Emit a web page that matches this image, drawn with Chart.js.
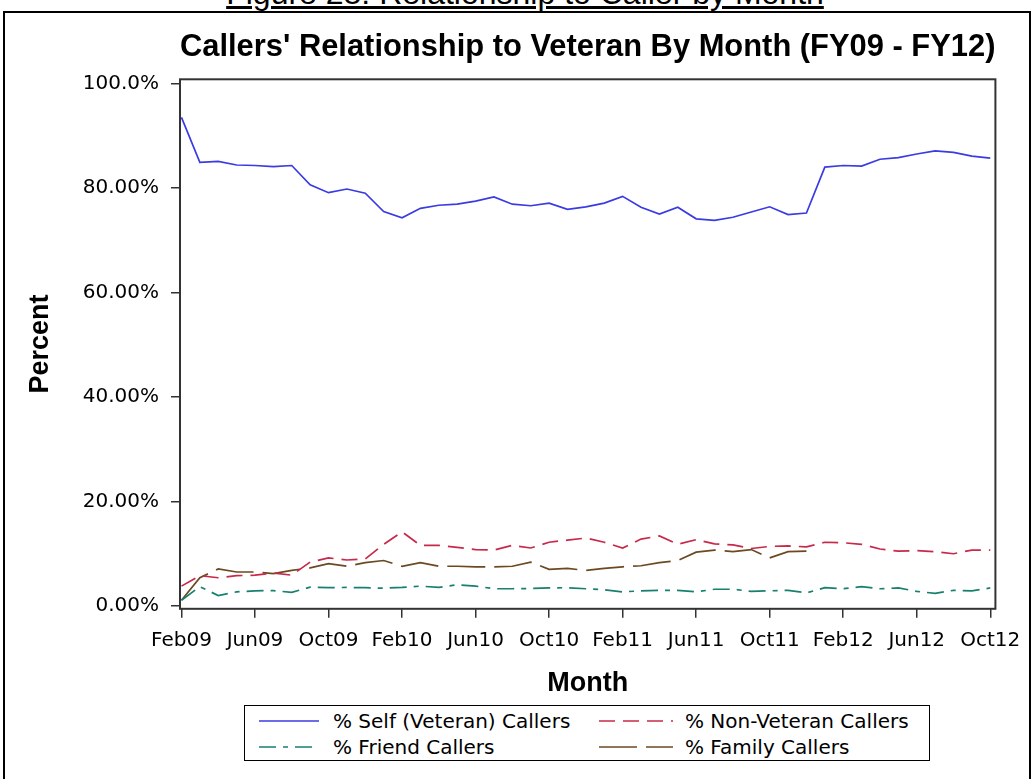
<!DOCTYPE html>
<html>
<head>
<meta charset="utf-8">
<script src="https://cdn.jsdelivr.net/npm/chart.js@4.4.1/dist/chart.umd.min.js"></script>
<style>
  html, body { margin: 0; padding: 0; background: #fff; overflow: hidden; }
  body { width: 1031px; height: 779px; position: relative; font-family: 'DejaVu Sans', sans-serif; }
  #frame { position: absolute; left: 3px; top: 11px; width: 1024px; height: 900px; border: 2px solid #000; }
  #caption { position: absolute; left: 0; width: 1050px; top: -23px; text-align: center;
    font: 32px 'Liberation Sans', Arial, sans-serif; line-height: 32px; text-decoration: underline; color: #000; }
  #wrap { position: absolute; left: 0; top: 0; width: 1031px; height: 779px; }
  #legend { position: absolute; left: 244px; top: 705px; width: 686px; height: 56px;
    border: 1.5px solid #000; box-sizing: border-box; background: #fff; }
  .lg-item { position: absolute; height: 26px; display: flex; align-items: center;
    font: 20px 'DejaVu Sans', sans-serif; color: #000; white-space: nowrap; }
</style>
</head>
<body>
<div id="frame"></div>
<div id="caption">Figure 28: Relationship to Caller by Month</div>
<div id="wrap"><canvas id="callerChart" width="1031" height="779"></canvas></div>
<div id="legend"></div>
<script>
/* Callers' relationship to veteran, monthly FY09 - FY12 */

const months = [
  'Feb09','Mar09','Apr09','May09','Jun09','Jul09','Aug09','Sep09','Oct09','Nov09','Dec09',
  'Jan10','Feb10','Mar10','Apr10','May10','Jun10','Jul10','Aug10','Sep10','Oct10','Nov10','Dec10',
  'Jan11','Feb11','Mar11','Apr11','May11','Jun11','Jul11','Aug11','Sep11','Oct11','Nov11','Dec11',
  'Jan12','Feb12','Mar12','Apr12','May12','Jun12','Jul12','Aug12','Sep12','Oct12'
];

const selfPct = [
  93.5, 84.9, 85.1, 84.4, 84.3, 84.1, 84.3, 80.6, 79.1, 79.8, 79.0,
  75.5, 74.3, 76.1, 76.7, 76.9, 77.5, 78.3, 76.9, 76.6, 77.1, 75.9, 76.4,
  77.1, 78.4, 76.3, 75.0, 76.3, 74.1, 73.8, 74.4, 75.4, 76.4, 74.9, 75.2,
  84.0, 84.3, 84.2, 85.5, 85.8, 86.5, 87.1, 86.8, 86.1, 85.7
];
const nonVetPct = [
  3.8, 5.8, 5.4, 5.8, 5.9, 6.3, 5.9, 8.4, 9.2, 8.8, 9.0,
  11.8, 14.2, 11.6, 11.6, 11.2, 10.8, 10.7, 11.6, 11.1, 12.2, 12.6, 13.0,
  12.2, 11.1, 12.8, 13.4, 11.8, 12.7, 11.9, 11.7, 11.0, 11.4, 11.5, 11.3,
  12.2, 12.1, 11.8, 10.9, 10.5, 10.6, 10.4, 10.0, 10.7, 10.7
];
const friendPct = [
  1.1, 3.7, 2.0, 2.7, 2.9, 2.95, 2.6, 3.6, 3.5, 3.55, 3.5,
  3.4, 3.55, 3.8, 3.55, 4.05, 3.8, 3.3, 3.3, 3.35, 3.45, 3.5, 3.3,
  3.1, 2.7, 2.9, 3.0, 3.0, 2.7, 3.2, 3.2, 2.8, 2.9, 3.0, 2.5,
  3.5, 3.3, 3.7, 3.3, 3.45, 2.8, 2.4, 3.0, 2.9, 3.45
];
const familyPct = [
  1.1, 5.4, 7.1, 6.5, 6.5, 6.2, 6.8, 7.3, 8.1, 7.6, 8.3,
  8.7, 7.6, 8.3, 7.6, 7.6, 7.5, 7.5, 7.6, 8.4, 7.0, 7.2, 6.8,
  7.2, 7.5, 7.7, 8.3, 8.7, 10.3, 10.7, 10.4, 10.8, 9.2, 10.4, 10.5,
  null, null, null, null, null, null, null, null, null, null
];

const seriesNames = ['% Self (Veteran) Callers', '% Non-Veteran Callers', '% Friend Callers', '% Family Callers'];
const xTickIdx = [0, 4, 8, 12, 16, 20, 24, 28, 32, 36, 40, 44];
const yTickValues = [0, 20, 40, 60, 80, 100];
const yTickLabels = ['0.00%', '20.00%', '40.00%', '60.00%', '80.00%', '100.0%'];

// styles
const seriesColors = ['#3b3be3', '#c8294a', '#17806f', '#6b4a22'];
const seriesDashes = [[], [16, 8], [17, 7, 5, 7], [38, 9]];

const FONT = "'DejaVu Sans', sans-serif";
const HEAD_FONT = "'Liberation Sans', Arial, sans-serif";
const toXY = arr => arr.map((v, i) => ({ x: i, y: v }));

const plotFrame = {
  id: 'plotFrame',
  afterDraw(chart) {
    const a = chart.chartArea, c = chart.ctx;
    c.save();
    c.strokeStyle = '#333';
    c.lineWidth = 2;
    c.strokeRect(a.left, a.top, a.right - a.left, a.bottom - a.top);
    c.restore();
  }
};

const chart = new Chart(document.getElementById('callerChart'), {
  type: 'line',
  data: {
    datasets: [selfPct, nonVetPct, friendPct, familyPct].map((vals, i) => ({
      label: seriesNames[i],
      data: toXY(vals),
      borderColor: seriesColors[i],
      borderDash: seriesDashes[i],
      borderWidth: 1.7,
      pointRadius: 0,
      fill: false,
      tension: 0,
      spanGaps: false
    }))
  },
  options: {
    responsive: false,
    animation: false,
    layout: { padding: { left: 0, right: 34, top: 0, bottom: 78 } },
    plugins: {
      legend: { display: false },
      tooltip: { enabled: false },
      title: {
        display: true,
        text: "Callers' Relationship to Veteran By Month (FY09 - FY12)",
        color: '#000',
        fullSize: false,
        font: { family: HEAD_FONT, size: 31.5, weight: 'bold' },
        padding: { top: 28.5, bottom: 13 }
      }
    },
    scales: {
      x: {
        type: 'linear',
        min: -0.08, max: 44.28,
        afterBuildTicks: axis => { axis.ticks = xTickIdx.map(v => ({ value: v })); },
        ticks: {
          autoSkip: false, maxRotation: 0, color: '#000', padding: 10.5,
          font: { family: FONT, size: 20 },
          callback: v => months[v]
        },
        grid: { drawOnChartArea: false, drawTicks: true, tickLength: 9, color: '#333', lineWidth: 1.5 },
        border: { display: false },
        title: {
          display: true, text: 'Month', color: '#000',
          font: { family: HEAD_FONT, size: 27, weight: 'bold' },
          padding: { top: 5, bottom: 0.8 }
        }
      },
      y: {
        min: -0.54, max: 100.8,
        afterBuildTicks: axis => { axis.ticks = yTickValues.map(v => ({ value: v })); },
        afterFit: axis => { axis.width = 180; },
        ticks: {
          color: '#000', padding: 12,
          font: { family: FONT, size: 20 },
          callback: v => yTickLabels[yTickValues.indexOf(v)]
        },
        grid: { drawOnChartArea: false, drawTicks: true, tickLength: 9, color: '#333', lineWidth: 1.5 },
        border: { display: false },
        title: {
          display: true, text: 'Percent', color: '#000',
          font: { family: HEAD_FONT, size: 27, weight: 'bold' },
          padding: { top: 24 }
        }
      }
    }
  },
  plugins: [plotFrame]
});

// legend box, two columns, built from the datasets
const legendPos = [[14, 2], [354, 2], [14, 28], [354, 28]];
const legendEl = document.getElementById('legend');
chart.data.datasets.forEach((ds, i) => {
  const item = document.createElement('div');
  item.className = 'lg-item';
  item.style.left = legendPos[i][0] + 'px';
  item.style.top = legendPos[i][1] + 'px';
  const w = i % 2 ? 74 : 60;
  const gap = i % 2 ? 12 : 14;
  item.innerHTML =
    `<svg width="${w}" height="10" style="margin-right:${gap}px"><line x1="0" y1="5" x2="${w}" y2="5" stroke="${ds.borderColor}" stroke-width="1.7" stroke-dasharray="${(ds.borderDash.length ? ds.borderDash : [w]).join(' ')}"/></svg>` +
    `<span>${ds.label}</span>`;
  legendEl.appendChild(item);
});
</script>
</body>
</html>
